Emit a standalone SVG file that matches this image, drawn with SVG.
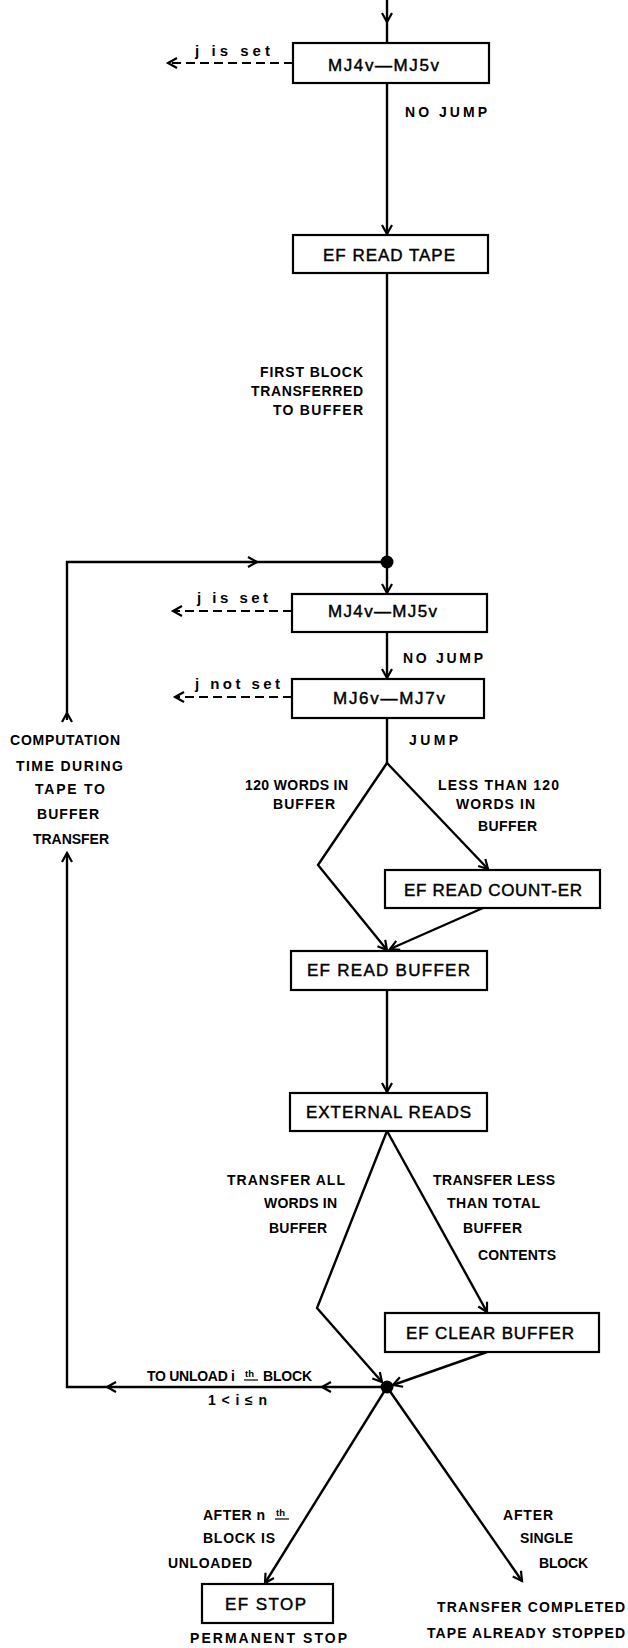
<svg xmlns="http://www.w3.org/2000/svg" xmlns:xlink="http://www.w3.org/1999/xlink" width="628" height="1648" viewBox="0 0 628 1648">
<style>
.box{fill:#fff;stroke:#000;stroke-width:2.2}
.ln{fill:none;stroke:#000;stroke-width:2.4}
.dash{fill:none;stroke:#000;stroke-width:2;stroke-dasharray:9 5}
.bt{font-family:"Liberation Sans",Arial,sans-serif;font-size:17px;fill:#000;stroke:#000;stroke-width:0.45}
.lb{font-family:"Liberation Sans",Arial,sans-serif;font-size:14px;font-weight:bold;fill:#000}
.lc{font-family:"Liberation Sans",Arial,sans-serif;font-size:15px;font-weight:bold;fill:#000}
.sup{font-family:"Liberation Sans",Arial,sans-serif;font-size:9.5px;font-weight:bold;fill:#000}
.dot{fill:#000}
</style>
<defs>
<marker id="a" markerUnits="userSpaceOnUse" markerWidth="14" markerHeight="14" viewBox="-11 -7 14 14" refX="0" refY="0" orient="auto" overflow="visible">
<path d="M-9,-5 L0,0 L-9,5" fill="none" stroke="#000" stroke-width="2.2"/>
</marker>
<path id="ah" d="M-9,-5 L0,0 L-9,5" fill="none" stroke="#000" stroke-width="2.2"/>
</defs>
<rect width="628" height="1648" fill="#fff"/>

<g id="connectors">
<path class="ln" d="M387,0 L387,43"/>
<use xlink:href="#ah" transform="translate(387,22) rotate(90)"/>
<path class="dash" d="M293,63 L168,63" marker-end="url(#a)"/>
<path class="ln" d="M387,83 L387,234" marker-end="url(#a)"/>
<path class="ln" d="M387,273 L387,562"/>
<path class="ln" d="M387,562 L387,593" marker-end="url(#a)"/>
<path class="ln" d="M67,720 L67,562 L387,562"/>
<use xlink:href="#ah" transform="translate(67,713) rotate(-90)"/>
<use xlink:href="#ah" transform="translate(257,562)"/>
<path class="dash" d="M292,611 L173,611" marker-end="url(#a)"/>
<path class="ln" d="M387,632 L387,678" marker-end="url(#a)"/>
<path class="dash" d="M292,697 L175,697" marker-end="url(#a)"/>
<path class="ln" d="M387,718 L387,763"/>
<path class="ln" d="M387,763 L318,865 L387,950" marker-end="url(#a)"/>
<path class="ln" d="M387,763 L488,869" marker-end="url(#a)"/>
<path class="ln" d="M483,908 L390,949" marker-end="url(#a)"/>
<path class="ln" d="M387,990 L387,1092" marker-end="url(#a)"/>
<path class="ln" d="M387,1131 L317,1308 L382,1382" marker-end="url(#a)"/>
<path class="ln" d="M387,1131 L487,1312" marker-end="url(#a)"/>
<path class="ln" d="M487,1352 L393,1385" marker-end="url(#a)"/>
<path class="ln" d="M387,1387 L67,1387 L67,853" marker-end="url(#a)"/>
<use xlink:href="#ah" transform="translate(322,1387) rotate(180)"/>
<use xlink:href="#ah" transform="translate(107,1387) rotate(180)"/>
<path class="ln" d="M387,1387 L265,1583" marker-end="url(#a)"/>
<path class="ln" d="M387,1387 L522,1581" marker-end="url(#a)"/>
<circle class="dot" cx="387" cy="562" r="6.5"/>
<circle class="dot" cx="387" cy="1387" r="6.5"/>
</g>

<g id="labels">
<text class="lc" x="195" y="56" textLength="75" lengthAdjust="spacing">j  is  set</text>
<text class="lb" x="405" y="117" textLength="82" lengthAdjust="spacing">NO  JUMP</text>
<text class="lb" x="260" y="377" textLength="103" lengthAdjust="spacing">FIRST BLOCK</text>
<text class="lb" x="251" y="396" textLength="112" lengthAdjust="spacing">TRANSFERRED</text>
<text class="lb" x="273" y="415" textLength="90" lengthAdjust="spacing">TO BUFFER</text>
<text class="lc" x="197" y="603" textLength="71" lengthAdjust="spacing">j  is  set</text>
<text class="lb" x="403" y="663" textLength="80" lengthAdjust="spacing">NO JUMP</text>
<text class="lc" x="195" y="689" textLength="85" lengthAdjust="spacing">j  not  set</text>
<text class="lb" x="409" y="745" textLength="49" lengthAdjust="spacing">JUMP</text>
<text class="lb" x="10" y="745" textLength="110" lengthAdjust="spacing">COMPUTATION</text>
<text class="lb" x="16" y="771" textLength="107" lengthAdjust="spacing">TIME DURING</text>
<text class="lb" x="35" y="794" textLength="70" lengthAdjust="spacing">TAPE TO</text>
<text class="lb" x="37" y="819" textLength="62" lengthAdjust="spacing">BUFFER</text>
<text class="lb" x="33" y="844" textLength="76" lengthAdjust="spacing">TRANSFER</text>
<text class="lb" x="245" y="790" textLength="103" lengthAdjust="spacing">120 WORDS IN</text>
<text class="lb" x="273" y="809" textLength="62" lengthAdjust="spacing">BUFFER</text>
<text class="lb" x="438" y="790" textLength="121" lengthAdjust="spacing">LESS THAN 120</text>
<text class="lb" x="456" y="809" textLength="79" lengthAdjust="spacing">WORDS IN</text>
<text class="lb" x="478" y="831" textLength="59" lengthAdjust="spacing">BUFFER</text>
<text class="lb" x="227" y="1185" textLength="118" lengthAdjust="spacing">TRANSFER ALL</text>
<text class="lb" x="264" y="1208" textLength="73" lengthAdjust="spacing">WORDS IN</text>
<text class="lb" x="269" y="1233" textLength="58" lengthAdjust="spacing">BUFFER</text>
<text class="lb" x="433" y="1185" textLength="122" lengthAdjust="spacing">TRANSFER LESS</text>
<text class="lb" x="447" y="1208" textLength="93" lengthAdjust="spacing">THAN TOTAL</text>
<text class="lb" x="463" y="1233" textLength="59" lengthAdjust="spacing">BUFFER</text>
<text class="lb" x="478" y="1260" textLength="78" lengthAdjust="spacing">CONTENTS</text>
<text class="lb" x="147" y="1381" textLength="88" lengthAdjust="spacing">TO UNLOAD i</text>
<text class="sup" x="245" y="1377">th</text>
<path class="ln" d="M244,1380 L258,1380" style="stroke-width:1.2"/>
<text class="lb" x="263" y="1381" textLength="49" lengthAdjust="spacing">BLOCK</text>
<text class="lb" x="208" y="1405" textLength="59" lengthAdjust="spacing">1&lt;i≤n</text>
<text class="lb" x="203" y="1520" textLength="62" lengthAdjust="spacing">AFTER n</text>
<text class="sup" x="276" y="1516">th</text>
<path class="ln" d="M275,1519 L289,1519" style="stroke-width:1.2"/>
<text class="lb" x="203" y="1543" textLength="72" lengthAdjust="spacing">BLOCK IS</text>
<text class="lb" x="168" y="1568" textLength="84" lengthAdjust="spacing">UNLOADED</text>
<text class="lb" x="503" y="1520" textLength="50" lengthAdjust="spacing">AFTER</text>
<text class="lb" x="520" y="1543" textLength="53" lengthAdjust="spacing">SINGLE</text>
<text class="lb" x="539" y="1568" textLength="49" lengthAdjust="spacing">BLOCK</text>
<text class="lb" x="437" y="1612" textLength="188" lengthAdjust="spacing">TRANSFER COMPLETED</text>
<text class="lb" x="427" y="1638" textLength="198" lengthAdjust="spacing">TAPE ALREADY STOPPED</text>
<text class="lb" x="190" y="1643" textLength="157" lengthAdjust="spacing">PERMANENT STOP</text>
</g>

<g id="n1"><rect class="box" x="293" y="43" width="196" height="40"/><text class="bt" x="328" y="71" textLength="111" lengthAdjust="spacing">MJ4v—MJ5v</text></g>
<g id="n2"><rect class="box" x="293" y="235" width="195" height="38"/><text class="bt" x="323" y="261" textLength="132" lengthAdjust="spacing">EF READ TAPE</text></g>
<g id="n3"><rect class="box" x="292" y="594" width="195" height="38"/><text class="bt" x="328" y="617" textLength="109" lengthAdjust="spacing">MJ4v—MJ5v</text></g>
<g id="n4"><rect class="box" x="292" y="679" width="192" height="39"/><text class="bt" x="333" y="704" textLength="112" lengthAdjust="spacing">MJ6v—MJ7v</text></g>
<g id="n5"><rect class="box" x="385" y="870" width="215" height="38"/><text class="bt" x="404" y="896" textLength="178" lengthAdjust="spacing">EF READ COUNT-ER</text></g>
<g id="n6"><rect class="box" x="291" y="951" width="196" height="39"/><text class="bt" x="307" y="976" textLength="163" lengthAdjust="spacing">EF READ BUFFER</text></g>
<g id="n7"><rect class="box" x="290" y="1093" width="197" height="38"/><text class="bt" x="306" y="1118" textLength="165" lengthAdjust="spacing">EXTERNAL READS</text></g>
<g id="n8"><rect class="box" x="385" y="1313" width="214" height="39"/><text class="bt" x="406" y="1339" textLength="168" lengthAdjust="spacing">EF CLEAR BUFFER</text></g>
<g id="n9"><rect class="box" x="202" y="1584" width="131" height="39"/><text class="bt" x="225" y="1610" textLength="81" lengthAdjust="spacing">EF STOP</text></g>
</svg>
